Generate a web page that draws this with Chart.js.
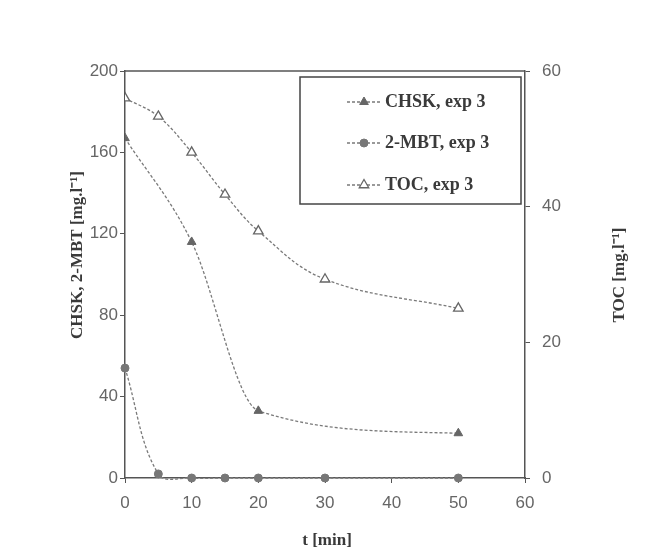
<!DOCTYPE html>
<html>
<head>
<meta charset="utf-8">
<script src="https://cdn.jsdelivr.net/npm/chart.js@4.4.1/dist/chart.umd.min.js"></script>
<style>
  html, body { margin: 0; padding: 0; background: #fff; }
  #wrap { width: 645px; height: 560px; }
</style>
</head>
<body>
<div id="wrap"><canvas id="degradChart" width="645" height="560"></canvas></div>
<script>
// sampling times [min] and measured concentrations
const chskTime = [0, 10, 20, 50];
const chskValues = [167, 116, 33, 22];

const mbtTime = [0, 5, 10, 15, 20, 30, 50];
const mbtValues = [54, 2, 0, 0, 0, 0, 0];

const tocTime = [0, 5, 10, 15, 20, 30, 50];
const tocValues = [56, 53.3, 48, 41.8, 36.4, 29.3, 25];

const xTicks = [0, 10, 20, 30, 40, 50, 60];
const leftTicks = [0, 40, 80, 120, 160, 200];
const rightTicks = [0, 20, 40, 60];

const seriesLabels = ["CHSK, exp 3", "2-MBT, exp 3", "TOC, exp 3"];

const INK = "#555";
const LINE = "#7a7a7a";
const TICK_FONT = { family: "'Liberation Sans', Arial, sans-serif", size: 17 };

function toPoints(xs, ys) {
  return xs.map((x, i) => ({ x, y: ys[i] }));
}

function fixedTicks(values) {
  return (scale) => {
    scale.ticks = values.map((v) => ({ value: v }));
  };
}

const datasets = [
  {
    label: seriesLabels[0],
    data: toPoints(chskTime, chskValues),
    yAxisID: "y",
    borderColor: LINE,
    borderWidth: 1.3,
    borderDash: [3, 2],
    cubicInterpolationMode: "monotone",
    pointStyle: "triangle",
    pointRadius: 5,
    pointBackgroundColor: "#666",
    pointBorderColor: "#666",
    pointBorderWidth: 1
  },
  {
    label: seriesLabels[1],
    data: toPoints(mbtTime, mbtValues),
    yAxisID: "y",
    borderColor: LINE,
    borderWidth: 1.3,
    borderDash: [3, 2],
    tension: 0.38,
    capBezierPoints: false,
    clip: 8,
    pointStyle: "circle",
    pointRadius: 4,
    pointBackgroundColor: "#777",
    pointBorderColor: "#777",
    pointBorderWidth: 1
  },
  {
    label: seriesLabels[2],
    data: toPoints(tocTime, tocValues),
    yAxisID: "y2",
    borderColor: LINE,
    borderWidth: 1.3,
    borderDash: [3, 2],
    tension: 0.38,
    pointStyle: "triangle",
    pointRadius: 5.5,
    pointBackgroundColor: "#fff",
    pointBorderColor: "#666",
    pointBorderWidth: 1.3
  }
];

// frame top edge, axis titles and the boxed legend
const decorations = {
  id: "decorations",
  afterDraw(chart) {
    const { ctx, chartArea } = chart;
    ctx.save();

    ctx.strokeStyle = INK;
    ctx.lineWidth = 1.5;
    ctx.beginPath();
    ctx.moveTo(chartArea.left, chartArea.top);
    ctx.lineTo(chartArea.right, chartArea.top);
    ctx.stroke();

    ctx.fillStyle = "#3a3a3a";
    ctx.font = "bold 17px 'Liberation Serif', 'Times New Roman', serif";
    ctx.textAlign = "center";
    ctx.textBaseline = "middle";

    ctx.save();
    ctx.translate(78, 255);
    ctx.rotate(-Math.PI / 2);
    ctx.fillText("CHSK, 2-MBT [mg.l\u207B\u00B9]", 0, 0);
    ctx.restore();

    ctx.save();
    ctx.translate(620, 275);
    ctx.rotate(-Math.PI / 2);
    ctx.fillText("TOC [mg.l\u207B\u00B9]", 0, 0);
    ctx.restore();

    ctx.fillText("t [min]", 327, 541);

    // legend
    const box = { x: 300, y: 77, w: 221, h: 127 };
    ctx.fillStyle = "#fff";
    ctx.fillRect(box.x, box.y, box.w, box.h);
    ctx.strokeStyle = "#444";
    ctx.lineWidth = 1.5;
    ctx.strokeRect(box.x, box.y, box.w, box.h);

    const rows = [102, 143, 185];
    ctx.font = "bold 18px 'Liberation Serif', 'Times New Roman', serif";
    ctx.textAlign = "left";
    chart.data.datasets.forEach((ds, i) => {
      const y = rows[i];
      ctx.strokeStyle = ds.borderColor;
      ctx.lineWidth = ds.borderWidth;
      ctx.setLineDash(ds.borderDash);
      ctx.beginPath();
      ctx.moveTo(347, y);
      ctx.lineTo(381, y);
      ctx.stroke();
      ctx.setLineDash([]);

      ctx.fillStyle = ds.pointBackgroundColor;
      ctx.strokeStyle = ds.pointBorderColor;
      ctx.lineWidth = ds.pointBorderWidth;
      Chart.helpers.drawPoint(ctx, {
        pointStyle: ds.pointStyle,
        radius: ds.pointRadius,
        rotation: 0,
        borderWidth: ds.pointBorderWidth
      }, 364, y);

      ctx.fillStyle = "#3a3a3a";
      ctx.fillText(ds.label, 385, y);
    });

    ctx.restore();
  }
};

new Chart(document.getElementById("degradChart"), {
  type: "line",
  data: { datasets },
  plugins: [decorations],
  options: {
    responsive: false,
    animation: false,
    layout: { padding: { top: 71, left: 0, right: 0, bottom: 0 } },
    plugins: {
      legend: { display: false },
      tooltip: { enabled: false }
    },
    scales: {
      x: {
        type: "linear",
        min: 0,
        max: 60,
        afterBuildTicks: fixedTicks(xTicks),
        afterFit: (scale) => { scale.height = 82; },
        border: { display: true, color: INK, width: 1.5 },
        grid: { display: true, drawOnChartArea: false, tickLength: 5, color: INK },
        ticks: { color: "#666", font: TICK_FONT, padding: 10, maxRotation: 0 }
      },
      y: {
        type: "linear",
        position: "left",
        min: 0,
        max: 200,
        afterBuildTicks: fixedTicks(leftTicks),
        afterFit: (scale) => { scale.width = 125; },
        border: { display: true, color: INK, width: 1.5 },
        grid: { display: true, drawOnChartArea: false, tickLength: 5, color: INK },
        ticks: { color: "#666", font: TICK_FONT, padding: 2 }
      },
      y2: {
        type: "linear",
        position: "right",
        min: 0,
        max: 60,
        afterBuildTicks: fixedTicks(rightTicks),
        afterFit: (scale) => { scale.width = 120; },
        border: { display: true, color: INK, width: 1.5 },
        grid: { display: true, drawOnChartArea: false, tickLength: 5, color: INK },
        ticks: { color: "#666", font: TICK_FONT, padding: 12 }
      }
    }
  }
});
</script>
</body>
</html>
